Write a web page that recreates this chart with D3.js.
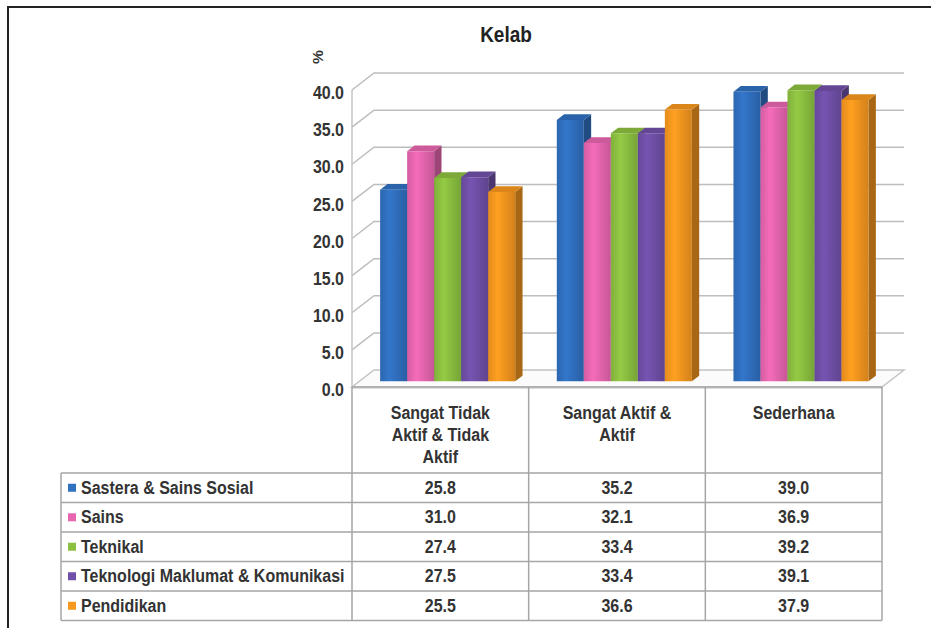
<!DOCTYPE html>
<html>
<head>
<meta charset="utf-8">
<script src="https://cdn.jsdelivr.net/npm/d3@7"></script>
<style>
  body { margin: 0; background: #fff; }
  text { font-family: "Liberation Sans", Arial, sans-serif; font-weight: bold; fill: #333; }
</style>
</head>
<body>
<div id="chart"></div>
<script>
var categoryLines = [["Sangat Tidak", "Aktif & Tidak", "Aktif"], ["Sangat Aktif &", "Aktif"], ["Sederhana"]];
var categories = categoryLines.map(function (l) { return l.join(" "); });
var series = ["Sastera & Sains Sosial", "Sains", "Teknikal", "Teknologi Maklumat & Komunikasi", "Pendidikan"];
var colors = ["#3070c0", "#e866b0", "#8cc040", "#7050a8", "#f8981e"];
var values = [
    [25.8, 35.2, 39.0],
    [31.0, 32.1, 36.9],
    [27.4, 33.4, 39.2],
    [27.5, 33.4, 39.1],
    [25.5, 36.6, 37.9]
];
var yTicks = [0, 5, 10, 15, 20, 25, 30, 35, 40];

var width = 931, height = 628;
var DX = 22, DY = -17;        // depth offset of the 3d box
var z0 = 1 / 3, z1 = 2 / 3;   // bar depth inside the box
var SY = 1.12;                // the source text looks a bit tall

var svg = d3.select("#chart").append("svg")
    .attr("width", width).attr("height", height);

// frame
svg.append("path").attr("d", "M8,628 L8,7 L931,7")
    .attr("fill", "none").attr("stroke", "#222").attr("stroke-width", 2);

var x = d3.scaleBand().domain(categories).range([352, 882]);
var x1 = d3.scaleBand().domain(series).range([0, x.bandwidth()]).paddingOuter(0.77);
var y = d3.scaleLinear().domain([0, 40]).range([387, 90]);

function P(px, v, z) { return [px + DX * z, y(v) + DY * z]; }
function poly(pts) { return "M" + pts.map(function (p) { return p.join(","); }).join("L") + "Z"; }

function stretchText(g, tx, ty, str, anchor, size) {
    return g.append("text")
        .attr("transform", "translate(" + tx + "," + ty + ") scale(1," + SY + ")")
        .attr("text-anchor", anchor || "middle")
        .style("font-size", (size || 16) + "px")
        .text(str);
}

// gradients for the front faces
var defs = svg.append("defs");
colors.forEach(function (c, i) {
    var g = defs.append("linearGradient").attr("id", "grad" + i)
        .attr("x1", "0").attr("x2", "1").attr("y1", "0").attr("y2", "0");
    g.append("stop").attr("offset", "0").attr("stop-color", d3.color(c).darker(0.25));
    g.append("stop").attr("offset", "0.35").attr("stop-color", d3.color(c).brighter(0.15));
    g.append("stop").attr("offset", "1").attr("stop-color", d3.color(c).darker(0.45));
});

// walls and floor
var box = svg.append("g");
var x0 = x.range()[0], xe = x.range()[1];
box.append("path")
    .attr("d", poly([P(x0, 0, 0), P(xe, 0, 0), P(xe, 0, 1), P(x0, 0, 1)]))
    .attr("fill", "#fbfbfb").attr("stroke", "#c4c4c4").attr("stroke-width", 1.5);
box.append("line")
    .attr("x1", P(x0, 0, 0)[0]).attr("y1", y(0) + 1)
    .attr("x2", P(xe, 0, 0)[0]).attr("y2", y(0) + 1)
    .attr("stroke", "#ddd").attr("stroke-width", 2);
box.selectAll(".grid").data(yTicks.filter(function (t) { return t > 0; })).enter()
    .append("path").attr("class", "grid")
    .attr("d", function (t) {
        var a = P(x0, t, 0), b = P(x0, t, 1), c = P(xe, t, 1);
        return "M" + a + "L" + b + "L" + c;
    })
    .attr("fill", "none").attr("stroke", "#bdbdbd").attr("stroke-width", 1.5);
box.append("line")
    .attr("x1", x0).attr("y1", y(0)).attr("x2", x0).attr("y2", y(40))
    .attr("stroke", "#c4c4c4").attr("stroke-width", 1.5);

// bars
var bars = svg.append("g");
categories.forEach(function (cat, j) {
    series.forEach(function (s, i) {
        var v = values[i][j];
        var xa = x(cat) + x1(s), xb = xa + x1.bandwidth();
        var c = d3.color(colors[i]);
        bars.append("path")
            .attr("d", poly([P(xb, v, z0), P(xb, v, z1), P(xb, 0, z1), P(xb, 0, z0)]))
            .attr("fill", c.darker(1.1));
        bars.append("path")
            .attr("d", poly([P(xa, v, z0), P(xb, v, z0), P(xb, v, z1), P(xa, v, z1)]))
            .attr("fill", c.darker(0.35));
        bars.append("path")
            .attr("d", poly([P(xa, v, z0), P(xb, v, z0), P(xb, 0, z0), P(xa, 0, z0)]))
            .attr("fill", "url(#grad" + i + ")");
    });
});

// y axis
var yAxis = svg.append("g")
    .attr("transform", "translate(344,3)")
    .call(d3.axisLeft(y).tickValues(yTicks).tickFormat(d3.format(".1f")).tickSize(0).tickPadding(0));
yAxis.select(".domain").remove();
yAxis.selectAll("text")
    .attr("transform", "scale(1," + SY + ")")
    .style("font-size", "16px").style("font-family", "Liberation Sans, Arial, sans-serif")
    .attr("fill", "#333");

svg.append("text")
    .attr("transform", "translate(318,57) rotate(-90) scale(" + SY + ",1)")
    .attr("text-anchor", "middle").attr("dy", "0.35em")
    .style("font-size", "14px").text("%");

// title
stretchText(svg, 506, 42, "Kelab", "middle", 19).style("fill", "#222");

// data table
var table = svg.append("g");
var rowTop = y(0), headBottom = 473, rowH = 29.5;
var legLeft = 61;
var rowY = series.map(function (s, i) { return headBottom + i * rowH; });
var tableBottom = headBottom + series.length * rowH;
var lineColor = "#a6a6a6";

table.append("line").attr("x1", x0).attr("x2", xe).attr("y1", rowTop).attr("y2", rowTop)
    .attr("stroke", lineColor).attr("stroke-width", 1.5);
rowY.concat([tableBottom]).forEach(function (ry) {
    table.append("line").attr("x1", legLeft).attr("x2", xe).attr("y1", ry).attr("y2", ry)
        .attr("stroke", lineColor).attr("stroke-width", 1.5);
});
table.append("line").attr("x1", legLeft).attr("x2", legLeft).attr("y1", headBottom).attr("y2", tableBottom)
    .attr("stroke", lineColor).attr("stroke-width", 1.5);
categories.forEach(function (cat) {
    table.append("line").attr("x1", x(cat)).attr("x2", x(cat)).attr("y1", rowTop).attr("y2", tableBottom)
        .attr("stroke", lineColor).attr("stroke-width", 1.5);
});
table.append("line").attr("x1", xe).attr("x2", xe).attr("y1", rowTop).attr("y2", tableBottom)
    .attr("stroke", lineColor).attr("stroke-width", 1.5);

// header labels
categories.forEach(function (cat, j) {
    var cx = x(cat) + x.bandwidth() / 2;
    categoryLines[j].forEach(function (ln, k) {
        stretchText(table, cx, 419 + k * 22, ln, "middle", 16);
    });
});

// legend column and values
series.forEach(function (s, i) {
    var cy = rowY[i] + rowH / 2;
    table.append("rect").attr("x", 68).attr("y", cy - 4).attr("width", 8).attr("height", 8)
        .attr("fill", colors[i]);
    stretchText(table, 81, cy + 6, s, "start", 16);
    categories.forEach(function (cat, j) {
        stretchText(table, x(cat) + x.bandwidth() / 2, cy + 6, d3.format(".1f")(values[i][j]), "middle", 16);
    });
});
</script>
</body>
</html>
